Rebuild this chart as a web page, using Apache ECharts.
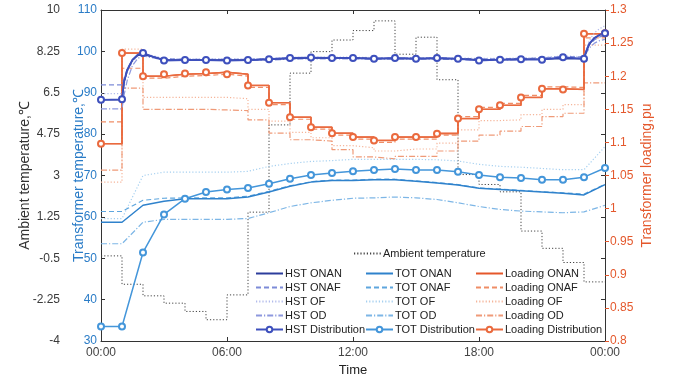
<!DOCTYPE html>
<html>
<head>
<meta charset="utf-8">
<script src="https://cdn.jsdelivr.net/npm/echarts@6/dist/echarts.min.js"></script>
<style>
  html, body { margin: 0; padding: 0; background: #fff; }
  #chart { width: 678px; height: 382px; }
</style>
</head>
<body>
<div id="chart"></div>
<script>
// hours: hourly grid for TOT / loading / ambient, finer grid for the HST rise curves
const hours = [0,1,2,3,4,5,6,7,8,9,10,11,12,13,14,15,16,17,18,19,20,21,22,23,24];
const hstHours = [0,1,1.1,1.25,1.5,1.75,2,3,4,5,6,7,8,9,10,11,12,13,14,15,16,17,18,19,20,21,22,23,23.1,23.25,23.5,23.75,24];

const hstOnan = [88.3,88.3,92.5,95.4,97.9,99.0,99.3,98.0,97.9,97.9,97.9,97.9,98.1,98.3,98.4,98.4,98.4,98.3,98.3,98.3,98.3,98.2,98.0,98.0,98.1,98.1,98.3,98.2,99.8,101.7,103.2,104.0,104.5];
const hstOnaf = [91.9,91.9,93.5,95.8,98.0,99.0,99.2,98.2,98.1,98.1,98.1,98.1,98.2,98.4,98.5,98.5,98.5,98.4,98.4,98.4,98.4,98.3,98.2,98.2,98.3,98.4,98.8,98.6,99.9,101.5,102.8,103.5,103.9];
const hstOf   = [89.8,89.8,92.0,94.8,97.5,98.9,99.5,98.3,98.2,98.2,98.2,98.2,98.3,98.5,98.6,98.6,98.6,98.5,98.5,98.5,98.5,98.4,98.3,98.3,98.4,98.5,98.9,98.7,100.5,102.6,104.5,105.5,106.2];
const hstOd   = [86.1,86.1,89.5,93.0,96.6,98.3,98.9,97.9,97.8,97.8,97.8,97.8,97.9,98.1,98.2,98.2,98.2,98.1,98.1,98.1,98.1,98.0,97.9,97.9,98.0,98.1,98.5,98.3,99.5,100.8,102.0,102.6,102.9];
const hstDist = [88.3,88.4,92.8,95.6,98.0,99.2,99.6,97.8,97.9,97.9,97.8,97.9,98.1,98.4,98.5,98.4,98.4,98.2,98.4,98.2,98.4,98.2,97.8,98.0,98.1,98.0,98.6,98.2,100.0,101.9,103.3,104.0,104.4];

const totOnan = [58.7,58.7,62.8,63.8,64.4,64.4,64.4,64.8,66.0,67.4,68.4,68.8,68.8,69.0,69.0,68.6,68.2,67.7,66.9,66.6,66.3,66.0,65.7,65.3,67.8];
const totOnaf = [61.3,61.3,64.0,64.5,64.6,64.6,64.6,65.0,66.2,67.5,68.5,68.9,68.9,69.1,69.1,68.7,68.3,67.8,67.0,66.7,66.4,66.1,65.8,65.5,67.9];
const totOf   = [59.6,59.6,70.0,70.8,70.8,70.8,70.8,71.0,72.2,72.9,73.4,73.6,73.9,73.9,73.9,73.9,73.8,73.5,72.7,72.2,72.0,71.7,71.4,71.4,77.0];
const totOd   = [53.5,53.5,58.7,59.4,59.4,59.4,59.4,59.6,61.0,62.5,63.4,64.0,64.5,64.6,64.8,64.6,64.2,63.4,62.5,61.8,61.4,61.2,61.0,61.2,62.8];
const totDist = [33.5,33.5,51.4,60.6,64.4,66.0,66.6,67.0,68.0,69.2,70.1,70.6,71.0,71.3,71.6,71.3,71.3,70.9,70.1,69.6,69.4,69.0,69.0,69.6,71.8];

const loadOnan = [1.098,1.235,1.200,1.203,1.204,1.206,1.203,1.186,1.160,1.138,1.123,1.114,1.108,1.103,1.108,1.108,1.114,1.136,1.150,1.156,1.168,1.181,1.180,1.264,1.265];
const loadOnaf = [1.131,1.212,1.197,1.200,1.201,1.203,1.200,1.183,1.157,1.135,1.120,1.111,1.105,1.100,1.105,1.105,1.111,1.139,1.153,1.159,1.171,1.184,1.183,1.258,1.258];
const loadOf   = [1.040,1.241,1.168,1.168,1.168,1.168,1.166,1.150,1.132,1.115,1.107,1.095,1.092,1.087,1.090,1.090,1.099,1.119,1.133,1.134,1.142,1.150,1.157,1.247,1.247];
const loadOd   = [1.058,1.182,1.150,1.150,1.150,1.149,1.148,1.134,1.114,1.104,1.102,1.089,1.078,1.075,1.079,1.079,1.087,1.102,1.111,1.117,1.124,1.139,1.144,1.190,1.190];
const loadDist = [1.098,1.235,1.200,1.203,1.204,1.206,1.203,1.186,1.160,1.138,1.123,1.114,1.108,1.103,1.108,1.108,1.113,1.136,1.150,1.156,1.168,1.181,1.180,1.264,1.265];

const ambient = [-0.4,-1.6,-2.09,-2.4,-2.75,-3.1,-2.05,1.45,5.14,7.33,8.24,8.73,9.13,9.54,8.13,8.85,7.05,3.04,2.62,2.31,0.65,-0.08,-0.68,-1.5,-1.5];

const timeTicks = ['00:00', '06:00', '12:00', '18:00', '00:00'];

const FONT = 'Liberation Sans, Arial, sans-serif';
const BLUE_LABEL = '#2a7cc7';
const ORANGE_LABEL = '#e4582c';
const DASH = [5, 3];
const DOT = [1.2, 2];
const DASHDOT = [6, 2, 1.2, 2];

function pairs(xs, ys) {
  return ys.map((v, i) => [xs[i], v]);
}

// distribution curves only carry markers on the full hours
function markedPairs(xs, ys) {
  return ys.map((v, i) => Number.isInteger(xs[i]) ? [xs[i], v] : { value: [xs[i], v], symbol: 'none' });
}

// plain lines: itemStyle opacity 0 keeps the legend icon a bare line
function line(name, data, color, type, width, yAxisIndex, extra) {
  return Object.assign({
    name: name,
    type: 'line',
    data: data,
    yAxisIndex: yAxisIndex,
    symbol: 'none',
    lineStyle: { color: color, type: type, width: width },
    itemStyle: { color: color, opacity: 0 },
    emphasis: { disabled: true },
    animation: false
  }, extra || {});
}

function distLine(name, data, color, width, yAxisIndex, extra) {
  return line(name, data, color, 'solid', width, yAxisIndex, Object.assign({
    symbol: 'emptyCircle',
    symbolSize: 6,
    showAllSymbol: true,
    itemStyle: { color: color, borderWidth: 1.2 }
  }, extra || {}));
}

const chart = echarts.init(document.getElementById('chart'), null, { renderer: 'canvas' });

const legendBase = {
  orient: 'vertical',
  itemWidth: 27,
  itemHeight: 7,
  itemGap: 3,
  selectedMode: false,
  padding: 0,
  textStyle: { fontFamily: FONT, fontSize: 11, color: '#222', padding: [0, 0, 0, -3] }
};

chart.setOption({
  animation: false,
  textStyle: { fontFamily: FONT },
  grid: { left: 101, right: 73, top: 10, bottom: 40 },
  legend: [
    Object.assign({}, legendBase, { left: 353, top: 248, data: ['Ambient temperature'] }),
    Object.assign({}, legendBase, { left: 255, top: 268, data: ['HST ONAN', 'HST ONAF', 'HST OF', 'HST OD', 'HST Distribution'] }),
    Object.assign({}, legendBase, { left: 365, top: 268, data: ['TOT ONAN', 'TOT ONAF', 'TOT OF', 'TOT OD', 'TOT Distribution'] }),
    Object.assign({}, legendBase, { left: 475, top: 268, data: ['Loading ONAN', 'Loading ONAF', 'Loading OF', 'Loading OD', 'Loading Distribution'] })
  ],
  xAxis: [
    {
      type: 'value', min: 0, max: 24, interval: 6,
      name: 'Time', nameLocation: 'middle', nameGap: 23, nameMoveOverlap: false,
      nameTextStyle: { fontSize: 13, color: '#222' },
      axisLine: { onZero: false, lineStyle: { color: '#333', width: 1 } },
      axisTick: { inside: true, length: 4, lineStyle: { color: '#333' } },
      axisLabel: { fontSize: 12, color: '#444', margin: 6, formatter: (v) => timeTicks[v / 6] },
      splitLine: { show: false }
    },
    {
      type: 'value', min: 0, max: 24, interval: 6, position: 'top',
      axisLine: { onZero: false, lineStyle: { color: '#333', width: 1 } },
      axisTick: { inside: true, length: 4, lineStyle: { color: '#333' } },
      axisLabel: { show: false },
      splitLine: { show: false }
    }
  ],
  yAxis: [
    {
      type: 'value', min: 30, max: 110, interval: 10, position: 'left',
      name: 'Transformer temperature,℃', nameLocation: 'middle', nameGap: 15, nameRotate: 90, nameMoveOverlap: false,
      nameTextStyle: { fontSize: 14, color: BLUE_LABEL },
      axisLine: { show: true, onZero: false, lineStyle: { color: '#333', width: 1 } },
      axisTick: { show: true, inside: true, length: 4, lineStyle: { color: '#333' } },
      axisLabel: { fontSize: 12, color: BLUE_LABEL, margin: 4 },
      splitLine: { show: false }
    },
    {
      type: 'value', min: -4, max: 10, interval: 1.75, position: 'left', offset: 38,
      name: 'Ambient temperature,℃', nameLocation: 'middle', nameGap: 31, nameRotate: 90, nameMoveOverlap: false,
      nameTextStyle: { fontSize: 14, color: '#333' },
      axisLine: { show: false, onZero: false },
      axisTick: { show: false },
      axisLabel: { fontSize: 12, color: '#3a3a3a', margin: 3 },
      splitLine: { show: false }
    },
    {
      type: 'value', min: 0.8, max: 1.3, interval: 0.05, position: 'right',
      name: 'Transformer loading,pu', nameLocation: 'middle', nameGap: 35, nameRotate: 90, nameMoveOverlap: false,
      nameTextStyle: { fontSize: 14, color: ORANGE_LABEL },
      axisLine: { show: true, onZero: false, lineStyle: { color: '#333', width: 1 } },
      axisTick: { show: true, inside: false, length: 4, lineStyle: { color: ORANGE_LABEL } },
      axisLabel: { fontSize: 12, color: ORANGE_LABEL, margin: 5, formatter: (v) => String(parseFloat(v.toFixed(2))) },
      splitLine: { show: false }
    },
    {
      // mirrored temperature ticks on the right edge of the box
      type: 'value', min: 30, max: 110, interval: 10, position: 'right',
      axisLine: { show: false, onZero: false },
      axisTick: { show: true, inside: true, length: 4, lineStyle: { color: '#333' } },
      axisLabel: { show: false },
      splitLine: { show: false }
    }
  ],
  series: [
    line('Ambient temperature', pairs(hours, ambient), '#444', DOT, 1, 1, { step: 'end' }),

    line('Loading OF', pairs(hours, loadOf), '#f5b59a', DOT, 1.2, 2, { step: 'end' }),
    line('Loading OD', pairs(hours, loadOd), '#ef9a78', DASHDOT, 1.2, 2, { step: 'end' }),
    line('Loading ONAF', pairs(hours, loadOnaf), '#ef8d66', DASH, 1.2, 2, { step: 'end' }),
    line('Loading ONAN', pairs(hours, loadOnan), '#e5572a', 'solid', 1.3, 2, { step: 'end' }),
    distLine('Loading Distribution', pairs(hours, loadDist), '#ea6a3e', 1.5, 2, { step: 'end' }),

    line('TOT OF', pairs(hours, totOf), '#a6d0f0', DOT, 1.2, 0),
    line('TOT OD', pairs(hours, totOd), '#7db6e6', DASHDOT, 1.2, 0),
    line('TOT ONAF', pairs(hours, totOnaf), '#5ea6de', DASH, 1.2, 0),
    line('TOT ONAN', pairs(hours, totOnan), '#2f82cc', 'solid', 1.5, 0),
    distLine('TOT Distribution', pairs(hours, totDist), '#4496da', 1.5, 0),

    line('HST OF', pairs(hstHours, hstOf), '#b2bbec', DOT, 1.2, 0),
    line('HST OD', pairs(hstHours, hstOd), '#8d98de', DASHDOT, 1.2, 0),
    line('HST ONAF', pairs(hstHours, hstOnaf), '#7d8bd8', DASH, 1.2, 0),
    line('HST ONAN', pairs(hstHours, hstOnan), '#2c3d9c', 'solid', 1.5, 0),
    distLine('HST Distribution', markedPairs(hstHours, hstDist), '#3e50bd', 1.8, 0)
  ]
});
</script>
</body>
</html>
